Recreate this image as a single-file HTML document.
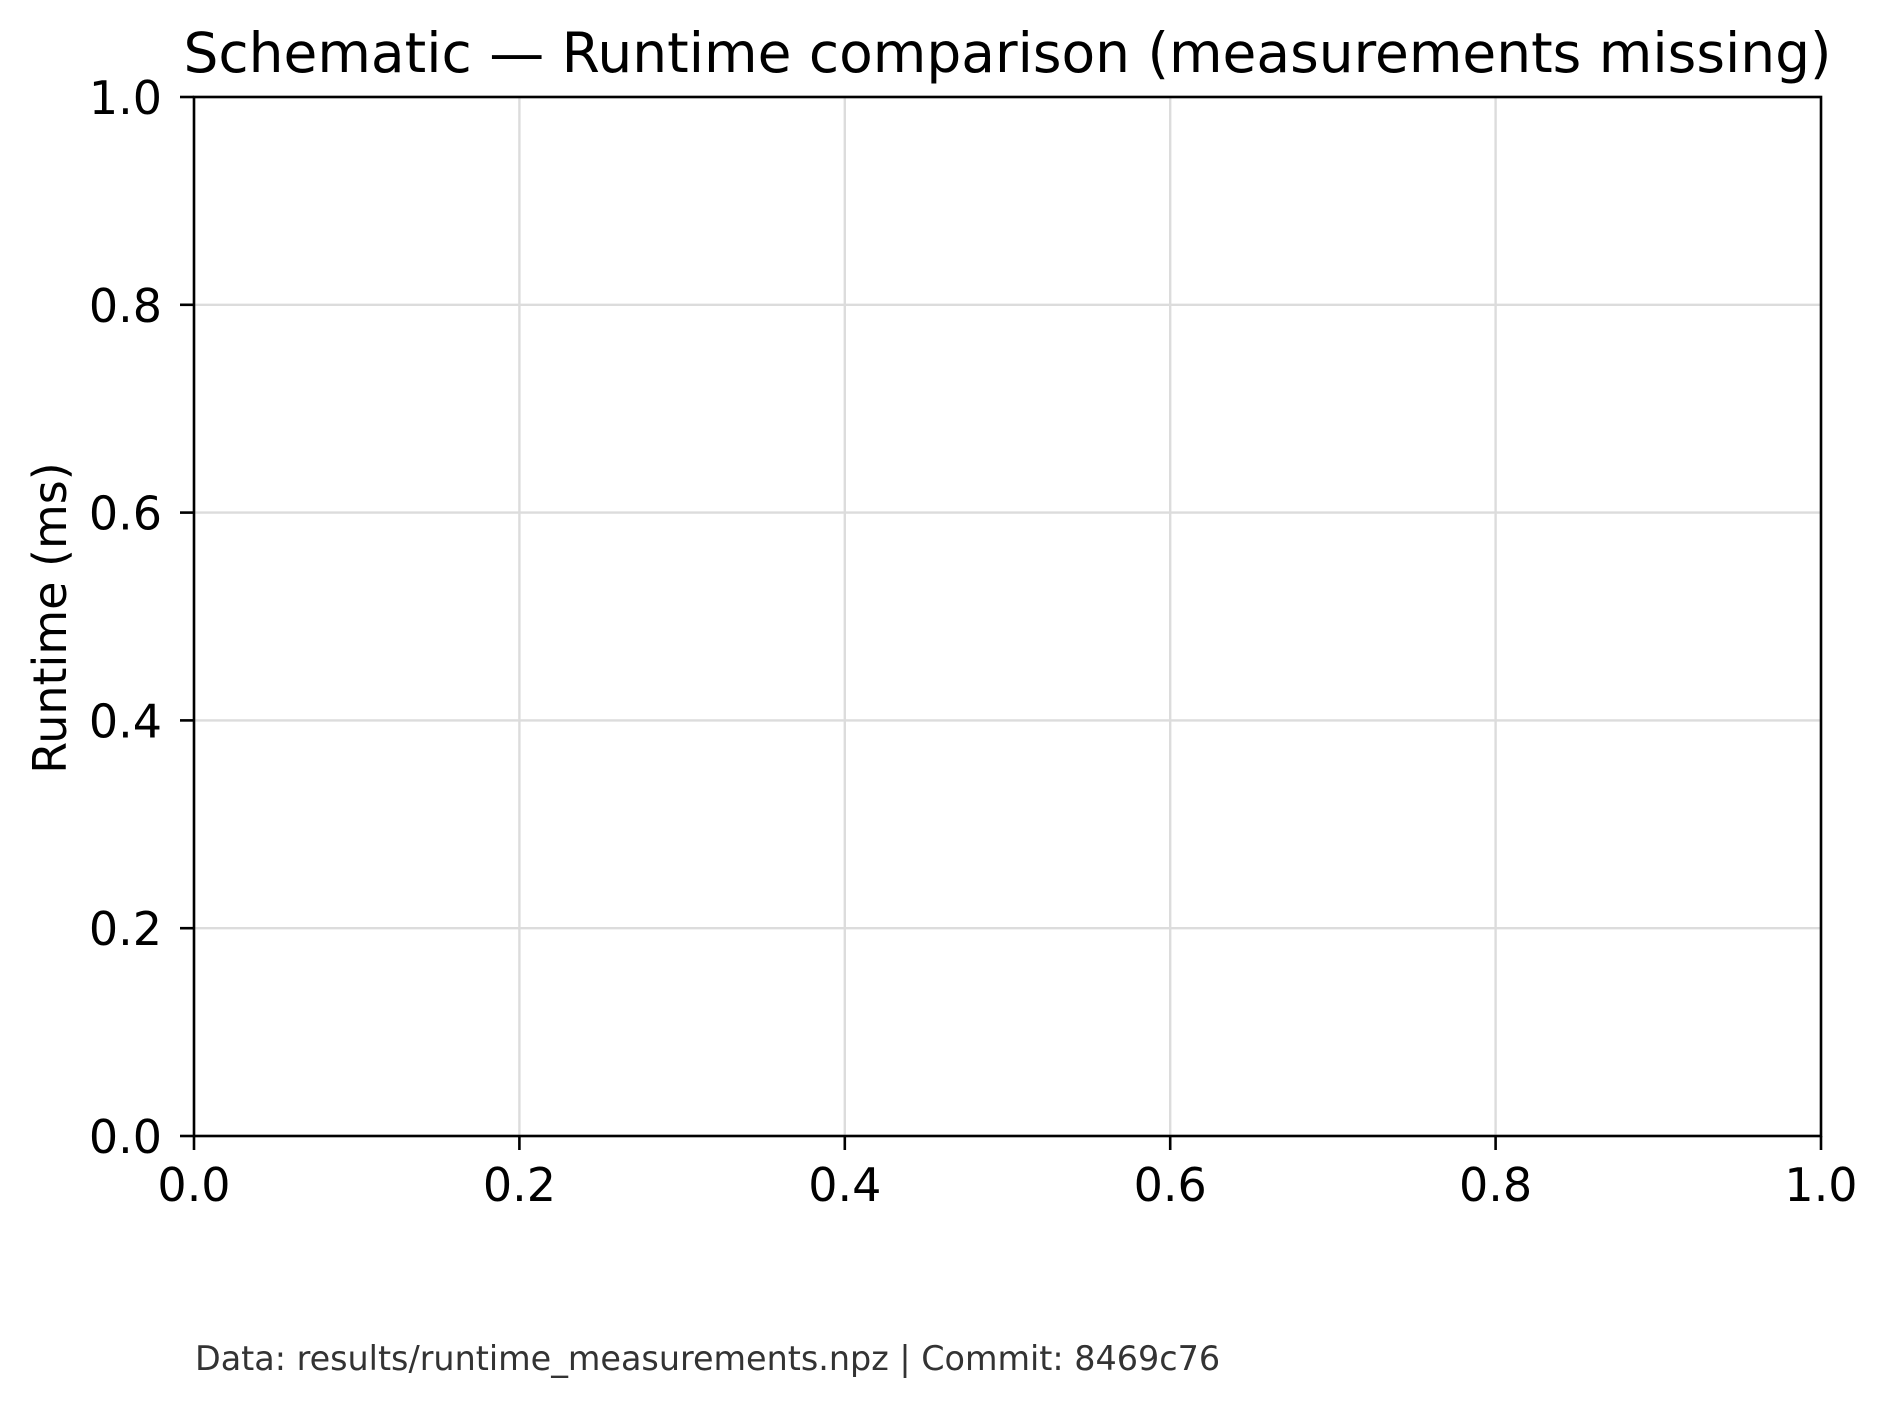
<!DOCTYPE html>
<html><head><meta charset="utf-8"><style>
html,body{margin:0;padding:0;background:#fff;}
svg{display:block;font-family:"DejaVu Sans","Liberation Sans",sans-serif;}
</style></head><body>
<svg id="chart" width="1887" height="1408" viewBox="0 0 1887 1408" xmlns="http://www.w3.org/2000/svg">
<rect width="1887" height="1408" fill="#fff"/>
<text x="1007.5" y="72" font-size="55" text-anchor="middle" fill="#000">Schematic — Runtime comparison (measurements missing)</text>
<g id="grid"></g>
<g id="axes"></g>
<text transform="translate(66,618) rotate(-90)" font-size="46" text-anchor="middle" fill="#000">Runtime (ms)</text>
<text x="195" y="1370" font-size="33.4" fill="#333">Data: results/runtime_measurements.npz | Commit: 8469c76</text>
</svg>
<script>
const xTicks = [0.0, 0.2, 0.4, 0.6, 0.8, 1.0];
const yTicks = [0.0, 0.2, 0.4, 0.6, 0.8, 1.0];
const xTickLabels = ["0.0", "0.2", "0.4", "0.6", "0.8", "1.0"];
const yTickLabels = ["0.0", "0.2", "0.4", "0.6", "0.8", "1.0"];
const xDomain = [0, 1];
const yDomain = [0, 1];

const L = 194, R = 1821, T = 97, B = 1136;
const sx = v => L + (v - xDomain[0]) / (xDomain[1] - xDomain[0]) * (R - L);
const sy = v => B - (v - yDomain[0]) / (yDomain[1] - yDomain[0]) * (B - T);
const NS = "http://www.w3.org/2000/svg";
const grid = document.getElementById('grid');
const axes = document.getElementById('axes');
function mk(tag, attrs, parent) {
  const e = document.createElementNS(NS, tag);
  for (const k in attrs) e.setAttribute(k, attrs[k]);
  parent.appendChild(e);
  return e;
}
xTicks.forEach((v, i) => {
  const x = sx(v);
  const g = mk('line', {x1: x, x2: x, y1: T, y2: B, stroke: '#dcdcdc', 'stroke-width': 2.4}, grid);
  
  
  const t = mk('line', {x1: x, x2: x, y1: B, y2: B + 14, stroke: '#000', 'stroke-width': 2.6}, axes);
  
  
  const lb = mk('text', {x: x, y: B + 65, 'font-size': 46, 'text-anchor': 'middle', fill: '#000'}, axes);
  lb.textContent = xTickLabels[i];
  
  
});
yTicks.forEach((v, i) => {
  const y = sy(v);
  const g = mk('line', {x1: L, x2: R, y1: y, y2: y, stroke: '#dcdcdc', 'stroke-width': 2.4}, grid);
  
  
  const t = mk('line', {x1: L - 14, x2: L, y1: y, y2: y, stroke: '#000', 'stroke-width': 2.6}, axes);
  
  
  const lb = mk('text', {x: 162, y: y + 17, 'font-size': 46, 'text-anchor': 'end', fill: '#000'}, axes);
  lb.textContent = yTickLabels[i];
  
  
});
const frame = mk('rect', {x: L, y: T, width: R - L, height: B - T, fill: 'none', stroke: '#000', 'stroke-width': 2.6}, axes);


</script>
</body></html>
